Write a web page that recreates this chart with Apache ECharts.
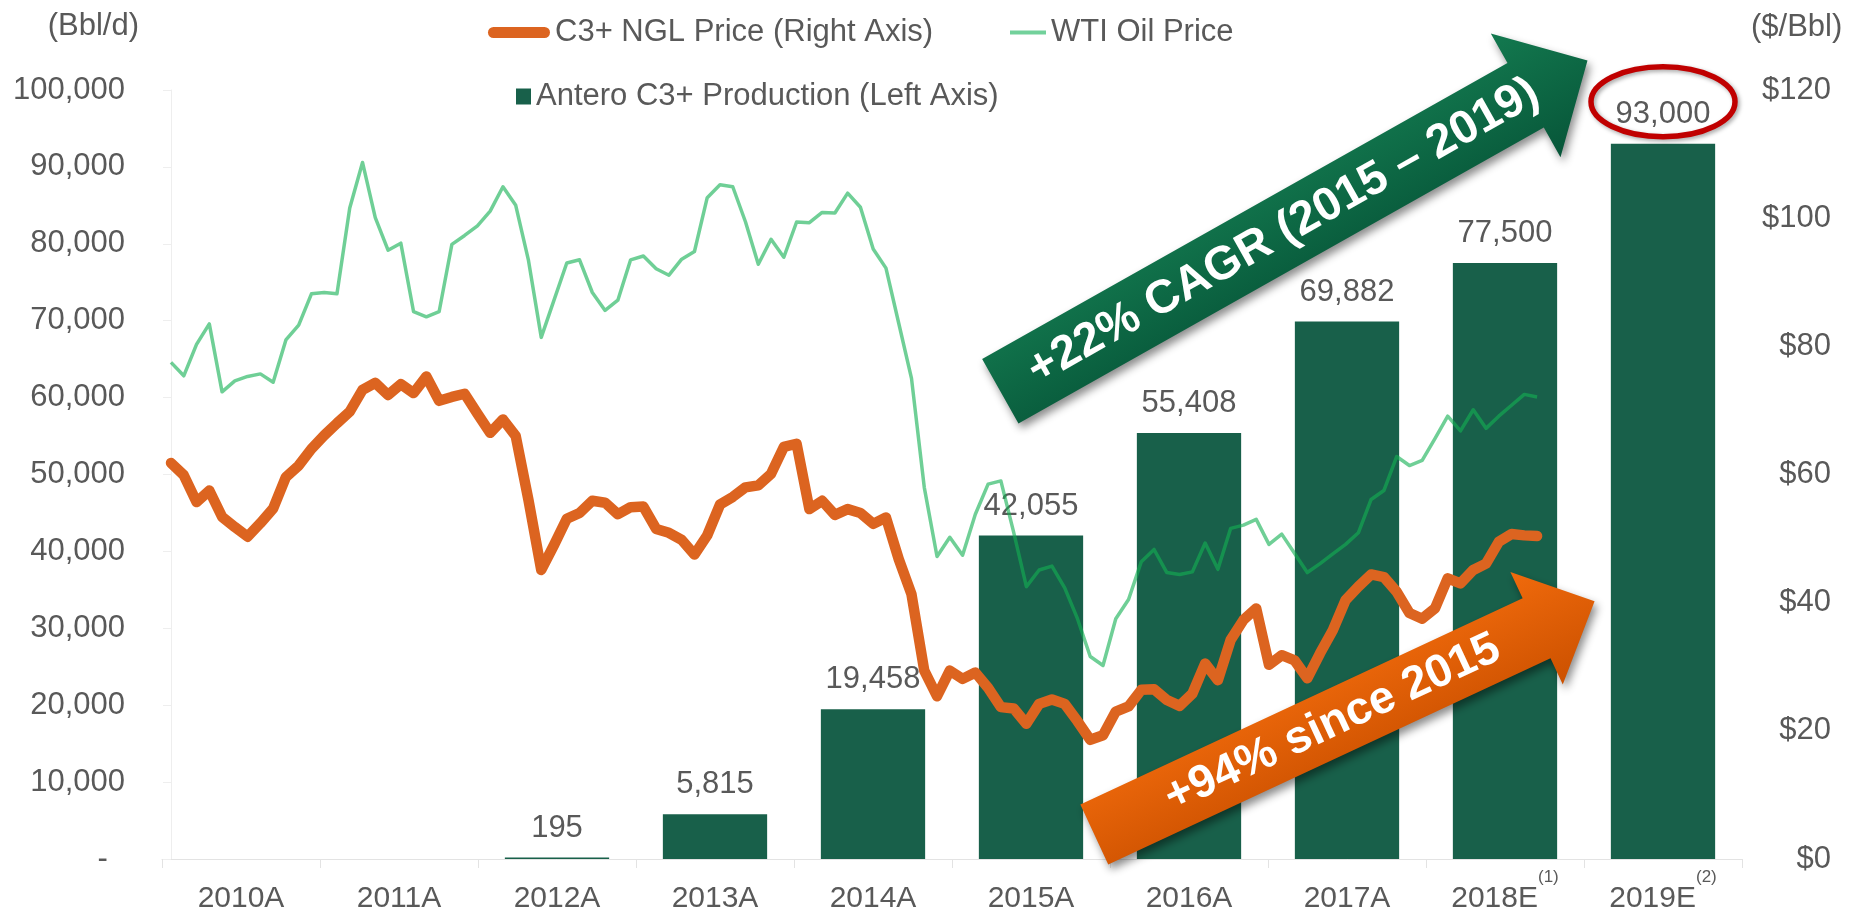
<!DOCTYPE html>
<html>
<head>
<meta charset="utf-8">
<title>Antero C3+ Production</title>
<script src="https://cdn.jsdelivr.net/npm/echarts@6/dist/echarts.min.js"></script>
<style>
  html, body { margin: 0; padding: 0; background: #fff; }
  #main { width: 1856px; height: 912px; }
</style>
</head>
<body>
<div id="main"></div>
<script>
// bar categories and production (Bbl/d)
var years = ['2010A', '2011A', '2012A', '2013A', '2014A', '2015A', '2016A', '2017A', '2018E', '2019E'];
var yearNotes = ['', '', '', '', '', '', '', '', '(1)', '(2)'];
var production = [null, null, 195, 5815, 19458, 42055, 55408, 69882, 77500, 93000];

// monthly prices from Jan 2010 ($/Bbl)
var nglPrice = [
  61.8, 59.9, 55.7, 57.5, 53.4, 51.8, 50.3, 52.4, 54.7, 59.6, 61.4, 64.0,
  66.1, 68.0, 69.8, 73.2, 74.3, 72.4, 74.1, 72.7, 75.3, 71.5, 72.1, 72.6,
  69.5, 66.5, 68.6, 66.0, 56.0, 45.1, 49.0, 53.1, 54.0, 55.9, 55.6, 53.8,
  54.9, 55.0, 51.5, 50.9, 49.8, 47.5, 50.5, 55.3, 56.5, 58.0, 58.3, 60.1,
  64.3, 64.8, 54.6, 55.9, 53.7, 54.6, 54.0, 52.3, 53.3, 46.8, 41.3, 29.4,
  25.4, 29.4, 28.1, 29.1, 26.7, 23.7, 23.5, 21.1, 24.2, 24.9, 24.2, 21.5,
  18.6, 19.3, 23.0, 23.8, 26.4, 26.5, 24.8, 23.9, 25.8, 30.5, 27.9, 34.2,
  37.3, 39.1, 30.3, 31.8, 31.0, 28.2, 32.1, 35.7, 40.4, 42.5, 44.4, 44.0,
  41.7, 38.4, 37.5, 39.1, 43.8, 43.0, 45.1, 46.1, 49.5, 50.7, 50.5, 50.4
];
var wtiPrice = [
  77.5, 75.4, 80.3, 83.5, 72.9, 74.6, 75.3, 75.7, 74.4, 81.0, 83.3, 88.2,
  88.4, 88.2, 101.6, 108.7, 100.1, 95.0, 96.1, 85.4, 84.6, 85.4, 95.9, 97.3,
  98.8, 101.1, 104.9, 102.0, 93.4, 81.4, 87.2, 93.0, 93.5, 88.4, 85.6, 87.2,
  93.5, 94.1, 92.1, 91.1, 93.6, 94.8, 103.2, 105.2, 104.9, 99.4, 92.8, 96.7,
  93.9, 99.4, 99.3, 100.9, 100.8, 103.9, 101.7, 95.2, 92.2, 83.6, 75.0, 58.0,
  47.2, 50.2, 47.4, 53.8, 58.5, 59.0, 51.0, 42.5, 45.1, 45.7, 42.3, 37.5,
  31.6, 30.2, 37.5, 40.5, 46.4, 48.3, 44.7, 44.4, 44.8, 49.3, 45.2, 51.6,
  52.1, 53.0, 49.1, 50.7, 47.7, 44.7, 46.1, 47.6, 49.1, 50.9, 56.1, 57.5,
  62.8, 61.4, 62.2, 65.6, 69.1, 66.8, 70.1, 67.2, 69.1, 70.8, 72.5, 72.1
];

var FONT = '"Liberation Sans", Arial, sans-serif';
var GREY = '#595959';

function fmt(v) {
  return String(v).replace(/\B(?=(\d{3})+(?!\d))/g, ',');
}

function arrowPoints(len, shaftW, headW, headLen) {
  var a = len - headLen;
  return [[0, -shaftW / 2], [a, -shaftW / 2], [a, -headW / 2], [len, 0],
          [a, headW / 2], [a, shaftW / 2], [0, shaftW / 2]];
}

var chart = echarts.init(document.getElementById('main'));

var option = {
  animation: false,
  backgroundColor: '#fff',
  textStyle: { fontFamily: FONT },
  grid: { left: 162, right: 114, top: 90, bottom: 53, containLabel: false, outerBoundsMode: 'none' },
  legend: [
    {
      data: ['C3+ NGL Price (Right Axis)'], left: 488, top: 17, padding: 0,
      itemWidth: 62, itemHeight: 11,
      icon: 'path://M5.5,0H56.5A5.5,5.5,0,0,1,56.5,11H5.5A5.5,5.5,0,0,1,5.5,0Z',
      itemStyle: { color: '#dc6420' },
      textStyle: { fontSize: 31, color: GREY, fontFamily: FONT }
    },
    {
      data: ['WTI Oil Price'], left: 1010, top: 17, padding: 0,
      itemWidth: 36, itemHeight: 4, icon: 'rect',
      itemStyle: { color: '#72d19b', opacity: 1 },
      textStyle: { fontSize: 31, color: GREY, fontFamily: FONT }
    },
    {
      data: ['Antero C3+ Production (Left Axis)'], left: 516, top: 81, padding: 0,
      itemWidth: 15, itemHeight: 16, icon: 'rect',
      itemStyle: { color: '#18604a' },
      textStyle: { fontSize: 31, color: GREY, fontFamily: FONT }
    }
  ],
  xAxis: [
    {
      type: 'category',
      data: years,
      axisLine: { lineStyle: { color: '#e3e3e3', width: 1 } },
      axisTick: { show: true, length: 9, lineStyle: { color: '#e3e3e3' } },
      axisLabel: {
        margin: 12,
        lineHeight: 56,
        color: GREY,
        formatter: function (v, idx) {
          var n = yearNotes[idx];
          return n ? '{y|' + v + '}{s|' + n + '}' : '{y|' + v + '}';
        },
        rich: {
          y: { fontSize: 30, lineHeight: 56, color: GREY, fontFamily: FONT },
          s: { fontSize: 17, lineHeight: 17, padding: [0, 0, 43, 0], color: GREY, fontFamily: FONT }
        }
      },
      splitLine: { show: false }
    },
    {
      type: 'value',
      min: -0.705,
      max: 123.05,
      show: false
    }
  ],
  yAxis: [
    {
      type: 'value',
      min: 0, max: 100000, interval: 10000,
      name: '(Bbl/d)',
      nameLocation: 'end',
      nameGap: 64,
      nameTextStyle: { fontSize: 31, color: GREY, align: 'right', verticalAlign: 'middle', padding: [0, 32, 0, 0] },
      axisLine: { show: true, lineStyle: { color: '#eeeeee' } },
      axisTick: { show: true, length: 8, lineStyle: { color: '#eeeeee' } },
      splitLine: { show: false },
      axisLabel: {
        fontSize: 31, color: GREY, margin: 37,
        formatter: function (v) { return v === 0 ? '-  ' : fmt(v); }
      }
    },
    {
      type: 'value',
      position: 'right',
      min: 0, max: 120, interval: 20,
      name: '($/Bbl)',
      nameLocation: 'end',
      nameGap: 63,
      nameTextStyle: { fontSize: 31, color: GREY, align: 'left', verticalAlign: 'middle', padding: [0, 0, 0, 9] },
      axisLine: { show: false },
      axisTick: { show: false },
      splitLine: { show: false },
      axisLabel: {
        fontSize: 31, color: GREY, margin: 89, align: 'right',
        formatter: function (v) { return '$' + v; }
      }
    }
  ],
  series: [
    {
      name: 'Antero C3+ Production (Left Axis)',
      type: 'bar',
      xAxisIndex: 0, yAxisIndex: 0,
      data: production,
      barCategoryGap: '34%',
      itemStyle: { color: '#18604a' },
      label: {
        show: true, position: 'top', distance: 14,
        fontSize: 31, color: GREY, fontFamily: FONT,
        formatter: function (p) { return p.value == null ? '' : fmt(p.value); }
      },
      z: 2
    },
    {
      name: 'WTI Oil Price',
      type: 'line',
      xAxisIndex: 1, yAxisIndex: 1,
      data: wtiPrice.map(function (v, i) { return [i, v]; }),
      symbol: 'none',
      itemStyle: { color: 'rgb(19,176,84)' },
      lineStyle: { color: 'rgb(19,176,84)', width: 3.5, opacity: 0.61, join: 'round' },
      z: 3
    },
    {
      name: 'C3+ NGL Price (Right Axis)',
      type: 'line',
      xAxisIndex: 1, yAxisIndex: 1,
      data: nglPrice.map(function (v, i) { return [i, v]; }),
      symbol: 'none',
      itemStyle: { color: '#dc6420' },
      lineStyle: { color: '#dc6420', width: 10.5, join: 'round', cap: 'round' },
      z: 4
    }
  ]
};

chart.setOption(option);

// annotations: the two arrows and the ring round the 2019E label
var ringX = chart.convertToPixel({ xAxisIndex: 0 }, '2019E');
var ringY = chart.convertToPixel({ yAxisIndex: 0 }, 93000) - 42;

function arrowShape(len, shaftW, headW, headLen, top, bottom) {
  return {
    type: 'polygon', z: 100,
    shape: { points: arrowPoints(len, shaftW, headW, headLen) },
    style: {
      fill: new echarts.graphic.LinearGradient(0, 0, 0, 1, [
        { offset: 0, color: top }, { offset: 1, color: bottom }
      ]),
      shadowBlur: 8, shadowOffsetX: 3, shadowOffsetY: 5, shadowColor: 'rgba(0,0,0,0.45)'
    }
  };
}

function textEl(x, str, size) {
  var font = 'bold ' + size + 'px ' + FONT;
  return {
    type: 'text', x: x, y: 0, z: 101,
    style: {
      text: str, fill: '#fff', font: font,
      fontSize: size, fontWeight: 'bold', fontFamily: FONT,
      align: 'center', verticalAlign: 'middle',
      textAlign: 'center', textVerticalAlign: 'middle'
    }
  };
}

chart.setOption({
  graphic: [
    {
      type: 'group', x: 1000.3, y: 391.3, rotation: 29.4 * Math.PI / 180, z: 100,
      children: [
        arrowShape(674, 74, 142, 71, '#13794f', '#075639'),
        textEl(325, '+22% CAGR (2015 \u2013 2019)', 47)
      ]
    },
    {
      type: 'group', x: 1094.3, y: 834.5, rotation: 25 * Math.PI / 180, z: 100,
      children: [
        arrowShape(552, 66, 124, 64, '#f06a0c', '#cc5100'),
        textEl(263, '+94% since 2015', 46)
      ]
    },
    {
      type: 'ellipse', z: 100,
      shape: { cx: ringX, cy: ringY, rx: 72, ry: 35 },
      style: {
        fill: 'transparent', stroke: '#c00000', lineWidth: 5.5,
        shadowBlur: 4, shadowOffsetX: 2, shadowOffsetY: 2, shadowColor: 'rgba(0,0,0,0.35)'
      }
    }
  ]
});
</script>
</body>
</html>
